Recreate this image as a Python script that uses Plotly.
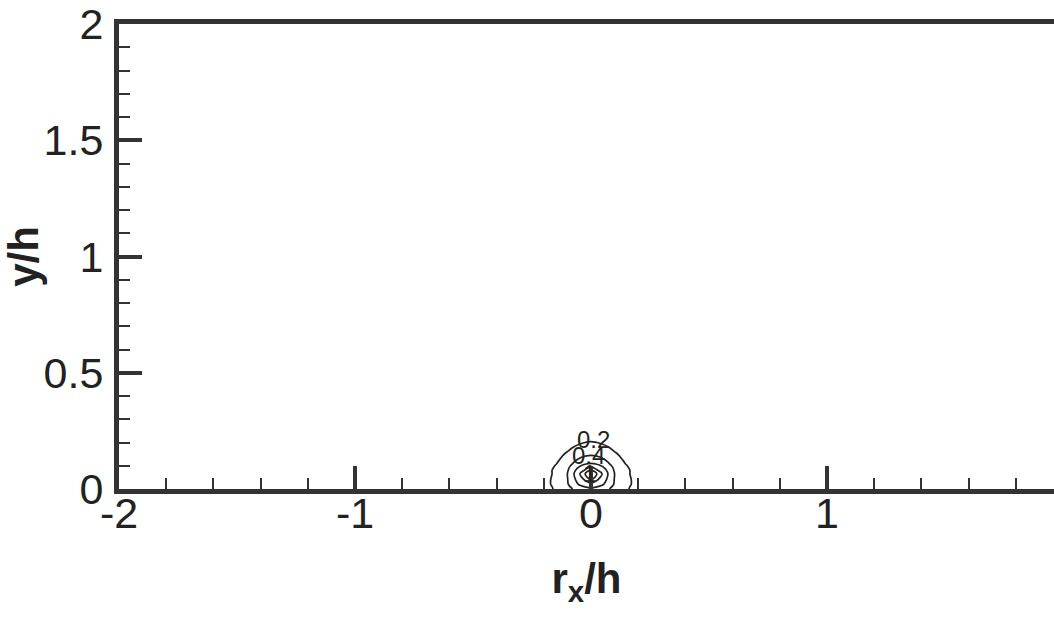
import plotly.graph_objects as go

# Correlation field near the wall (rx/h, y/h grid)
rx = [-0.25, -0.165, -0.1, -0.072, -0.047, -0.025, 0.0, 0.025, 0.047, 0.072, 0.1, 0.165, 0.25]
yh = [0.0, 0.02, 0.04, 0.065, 0.08, 0.095, 0.11, 0.145, 0.2, 0.26]
corr = [
    [0.05, 0.19, 0.33, 0.42, 0.48, 0.52, 0.55, 0.52, 0.48, 0.42, 0.33, 0.19, 0.05],
    [0.06, 0.21, 0.38, 0.52, 0.63, 0.70, 0.75, 0.70, 0.63, 0.52, 0.38, 0.21, 0.06],
    [0.06, 0.21, 0.39, 0.56, 0.72, 0.82, 0.90, 0.82, 0.72, 0.56, 0.39, 0.21, 0.06],
    [0.05, 0.20, 0.40, 0.60, 0.80, 0.90, 1.00, 0.90, 0.80, 0.60, 0.40, 0.20, 0.05],
    [0.05, 0.20, 0.38, 0.56, 0.72, 0.82, 0.90, 0.82, 0.72, 0.56, 0.38, 0.20, 0.05],
    [0.04, 0.18, 0.35, 0.50, 0.62, 0.72, 0.80, 0.72, 0.62, 0.50, 0.35, 0.18, 0.04],
    [0.03, 0.15, 0.31, 0.42, 0.50, 0.56, 0.60, 0.56, 0.50, 0.42, 0.31, 0.15, 0.03],
    [0.02, 0.10, 0.24, 0.30, 0.35, 0.38, 0.40, 0.38, 0.35, 0.30, 0.24, 0.10, 0.02],
    [0.00, 0.04, 0.10, 0.15, 0.18, 0.20, 0.21, 0.20, 0.18, 0.15, 0.10, 0.04, 0.00],
    [0.00, 0.00, 0.02, 0.03, 0.04, 0.05, 0.05, 0.05, 0.04, 0.03, 0.02, 0.00, 0.00],
]
levels = [0.2, 0.4, 0.6, 0.8, 0.9]

# Contour labels: text and position
label_text = ["0.2", "0.4", "1"]
label_x = [0.01, -0.01, -0.005]
label_y = [0.215, 0.142, 0.068]

# Axis ticks
x_tick_vals = [-2, -1, 0, 1]
x_tick_text = ["-2", "-1", "0", "1"]
y_tick_vals = [0, 0.5, 1, 1.5, 2]
y_tick_text = ["0", "0.5", "1", "1.5", "2"]

INK = "#222222"
FRAME = "#333333"
FONT = "Liberation Sans, Arial, sans-serif"

fig = go.Figure()
for lv in levels:
    fig.add_trace(go.Contour(
        x=rx, y=yh, z=corr,
        contours=dict(start=lv, end=lv, size=1, coloring="lines", showlabels=False),
        colorscale=[[0, INK], [1, INK]],
        showscale=False,
        line=dict(width=1.7, smoothing=1.0),
        hoverinfo="skip",
    ))

for t, x, y in zip(label_text, label_x, label_y):
    fig.add_annotation(x=x, y=y, text=t, showarrow=False,
                       font=dict(family=FONT, size=24, color=INK))

fig.update_layout(
    width=1054, height=619, autosize=False,
    paper_bgcolor="white", plot_bgcolor="white",
    margin=dict(l=119, r=0, t=24, b=130),
    showlegend=False,
    font=dict(family=FONT, color=INK),
)

fig.update_xaxes(
    range=[-2, 1.962], showgrid=False, zeroline=False,
    showline=True, linecolor=FRAME, linewidth=5, mirror=True,
    ticks="inside", ticklen=23, tickwidth=4, tickcolor=FRAME,
    tickvals=x_tick_vals, ticktext=x_tick_text,
    tickfont=dict(family=FONT, size=43, color=INK),
    ticklabelstandoff=-18,
    minor=dict(ticks="inside", dtick=0.2, tick0=-2, ticklen=11, tickwidth=2, tickcolor=FRAME),
    title=dict(text="<b>r<sub>x</sub>/h</b>", font=dict(family=FONT, size=42, color=INK), standoff=30),
)
fig.update_yaxes(
    range=[0, 2], showgrid=False, zeroline=False,
    showline=True, linecolor=FRAME, linewidth=5, mirror=False,
    ticks="inside", ticklen=23, tickwidth=4, tickcolor=FRAME,
    tickvals=y_tick_vals, ticktext=y_tick_text,
    tickfont=dict(family=FONT, size=43, color=INK),
    ticklabelstandoff=2,
    minor=dict(ticks="inside", dtick=0.1, tick0=0, ticklen=11, tickwidth=2, tickcolor=FRAME),
    title=dict(text="<b>y/h</b>", font=dict(family=FONT, size=42, color=INK), standoff=8),
)

fig.write_html("out.html")
